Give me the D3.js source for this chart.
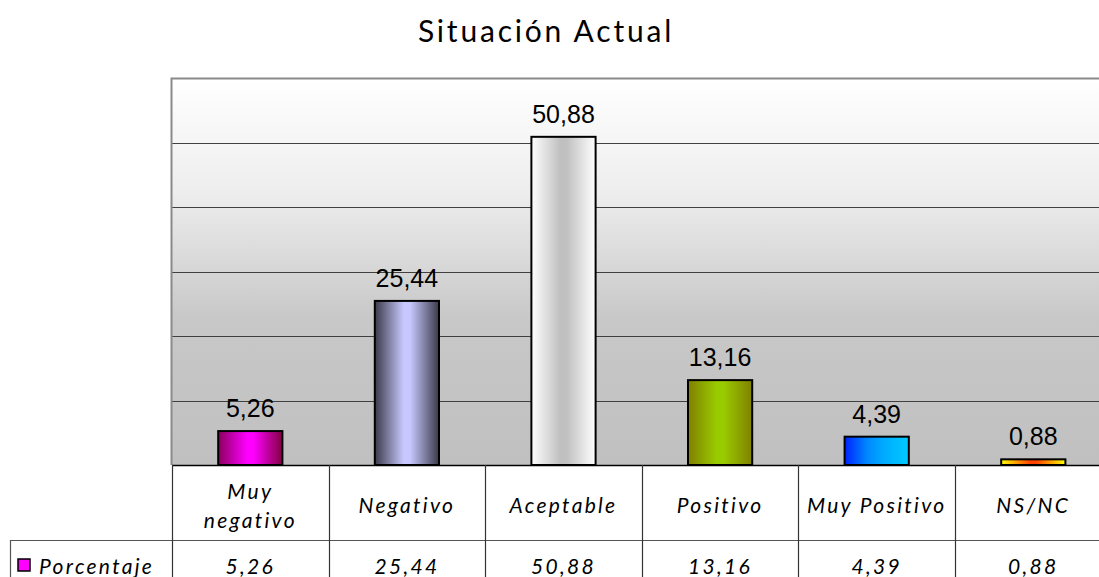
<!DOCTYPE html>
<head>
<meta charset="utf-8">
<title>Situación Actual</title>
<style>
   body {
      margin: 0;
      background: #ffffff;
      overflow: hidden;
   }
   .title {
      font: 30px "Lato", "Open Sans", sans-serif;
      letter-spacing: 2.8px;
      text-anchor: middle;
      fill: #000;
   }
   .vlabel {
      font: 25px "Liberation Sans", Arial, sans-serif;
      text-anchor: middle;
      fill: #000;
   }
   .cell {
      font: italic 21px "Lato", "Open Sans", sans-serif;
      letter-spacing: 2.3px;
      text-anchor: middle;
      fill: #000;
   }
</style>
</head>
<body>
<div id="chartDiv"></div>
<script src="https://cdnjs.cloudflare.com/ajax/libs/d3/7.8.5/d3.min.js"></script>
<script>

   var categories = ["Muy negativo", "Negativo", "Aceptable", "Positivo", "Muy Positivo", "NS/NC"];
   var headerLines = [["Muy", "negativo"], ["Negativo"], ["Aceptable"], ["Positivo"], ["Muy Positivo"], ["NS/NC"]];
   var values = [5.26, 25.44, 50.88, 13.16, 4.39, 0.88];
   var valueLabels = ["5,26", "25,44", "50,88", "13,16", "4,39", "0,88"];
   var seriesName = "Porcentaje";
   var yTicks = [0, 10, 20, 30, 40, 50, 60];

   // gradient stops per bar (left -> right)
   var barStops = [
      ["#8a005e", "#ff00ff", "#ff00ff", "#800040"],
      ["#3a3a4a", "#c8c8ff", "#c8c8ff", "#3a3a4a"],
      ["#ffffff", "#c0c0c0", "#c0c0c0", "#ffffff"],
      ["#808000", "#99cc00", "#99cc00", "#808000"],
      ["#0022ff", "#0088ff", "#00aaff", "#00ccff"],
      ["#ffff00", "#ff4400", "#ff4400", "#ffff00"]
   ];

   var width = 1099, height = 577;
   var plotLeft = 172, plotTop = 78, plotBottom = 465, colW = 156.6;
   var headerBottom = 540;

   var svg = d3.select("#chartDiv")
      .append("svg")
      .attr("width", width)
      .attr("height", height);

   var defs = svg.append("defs");

   var bg = defs.append("linearGradient")
      .attr("id", "plotBg")
      .attr("x1", 0).attr("y1", 0).attr("x2", 0).attr("y2", 1);
   [[0, "#ffffff"], [0.3, "#ededed"], [0.62, "#c8c8c8"], [1, "#c0c0c0"]].forEach(function(s) {
      bg.append("stop").attr("offset", s[0]).attr("stop-color", s[1]);
   });

   barStops.forEach(function(stops, i) {
      var lg = defs.append("linearGradient")
         .attr("id", "bar" + i)
         .attr("x1", 0).attr("y1", 0).attr("x2", 1).attr("y2", 0);
      var offs = [0, 0.45, 0.55, 1];
      if (i == 4) offs = [0, 0.35, 0.6, 1];
      stops.forEach(function(c, j) {
         lg.append("stop").attr("offset", offs[j]).attr("stop-color", c);
      });
   });

   var xCol = d3.scaleBand()
      .domain(categories)
      .range([plotLeft, plotLeft + categories.length * colW])
      .padding(0);

   var xBar = d3.scaleBand()
      .domain(categories)
      .range([plotLeft, plotLeft + categories.length * colW])
      .paddingInner(0.59)
      .paddingOuter(0.295);

   var y = d3.scaleLinear()
      .domain([0, 60])
      .range([plotBottom, plotTop]);

   // title
   svg.append("text")
      .attr("class", "title")
      .attr("x", 546)
      .attr("y", 42)
      .text("Situación Actual");

   // plot area
   svg.append("rect")
      .attr("x", plotLeft)
      .attr("y", y(60))
      .attr("width", width - plotLeft + 20)
      .attr("height", plotBottom - y(60))
      .attr("fill", "url(#plotBg)");

   // gridlines
   svg.append("g")
      .selectAll("line")
      .data(yTicks.filter(function(d) { return d > 0 && d < 60; }))
      .enter().append("line")
      .attr("x1", plotLeft).attr("x2", width)
      .attr("y1", function(d) { return Math.round(y(d)) + 0.5; })
      .attr("y2", function(d) { return Math.round(y(d)) + 0.5; })
      .attr("stroke", "#404040")
      .attr("stroke-width", 1.2);

   // plot border (top + left)
   svg.append("path")
      .attr("d", "M" + width + "," + (y(60) + 0.5) + "H" + (plotLeft - 0.5) + "V" + plotBottom)
      .attr("fill", "none")
      .attr("stroke", "#8a8a8a")
      .attr("stroke-width", 2);

   // bars
   svg.append("g")
      .selectAll("rect")
      .data(values)
      .enter().append("rect")
      .attr("x", function(d, i) { return xBar(categories[i]); })
      .attr("y", function(d) { return y(d); })
      .attr("width", xBar.bandwidth())
      .attr("height", function(d) { return plotBottom - y(d); })
      .attr("fill", function(d, i) { return "url(#bar" + i + ")"; })
      .attr("stroke", "#000")
      .attr("stroke-width", 2);

   // value labels
   svg.append("g")
      .selectAll("text")
      .data(values)
      .enter().append("text")
      .attr("class", "vlabel")
      .attr("x", function(d, i) { return xBar(categories[i]) + xBar.bandwidth() / 2; })
      .attr("y", function(d) { return y(d) - 14; })
      .text(function(d, i) { return valueLabels[i]; });

   // data table
   var tbl = svg.append("g");

   tbl.append("line")
      .attr("x1", plotLeft).attr("x2", width)
      .attr("y1", plotBottom + 0.5).attr("y2", plotBottom + 0.5)
      .attr("stroke", "#000").attr("stroke-width", 1.5);

   tbl.append("line")
      .attr("x1", 10).attr("x2", width)
      .attr("y1", headerBottom + 0.5).attr("y2", headerBottom + 0.5)
      .attr("stroke", "#555").attr("stroke-width", 1.2);

   tbl.append("line")
      .attr("x1", 10.5).attr("x2", 10.5)
      .attr("y1", headerBottom).attr("y2", height)
      .attr("stroke", "#555").attr("stroke-width", 1.2);

   tbl.selectAll(".vsep")
      .data(categories)
      .enter().append("line")
      .attr("class", "vsep")
      .attr("x1", function(d) { return Math.round(xCol(d)) + 0.5; })
      .attr("x2", function(d) { return Math.round(xCol(d)) + 0.5; })
      .attr("y1", plotBottom).attr("y2", height)
      .attr("stroke", "#333").attr("stroke-width", 1.2);

   // header cells
   var hdr = tbl.selectAll(".hdr")
      .data(categories)
      .enter().append("text")
      .attr("class", "cell")
      .attr("x", function(d) { return xCol(d) + colW / 2; })
      .attr("y", function(d, i) { return headerLines[i].length > 1 ? 499 : 513; });

   hdr.selectAll("tspan")
      .data(function(d, i) { return headerLines[i]; })
      .enter().append("tspan")
      .attr("x", function() { return d3.select(this.parentNode).attr("x"); })
      .attr("dy", function(d, j) { return j == 0 ? 0 : 29; })
      .text(function(d) { return d; });

   // value row
   tbl.selectAll(".val")
      .data(values)
      .enter().append("text")
      .attr("class", "cell")
      .attr("x", function(d, i) { return xCol(categories[i]) + colW / 2; })
      .attr("y", 574)
      .text(function(d, i) { return valueLabels[i]; });

   // legend key
   tbl.append("rect")
      .attr("x", 18).attr("y", 559)
      .attr("width", 12).attr("height", 12)
      .attr("fill", "#ff00ff")
      .attr("stroke", "#000").attr("stroke-width", 1.5);

   tbl.append("text")
      .attr("class", "cell")
      .style("text-anchor", "start")
      .attr("x", 39)
      .attr("y", 574)
      .text(seriesName);

</script>
</body>
